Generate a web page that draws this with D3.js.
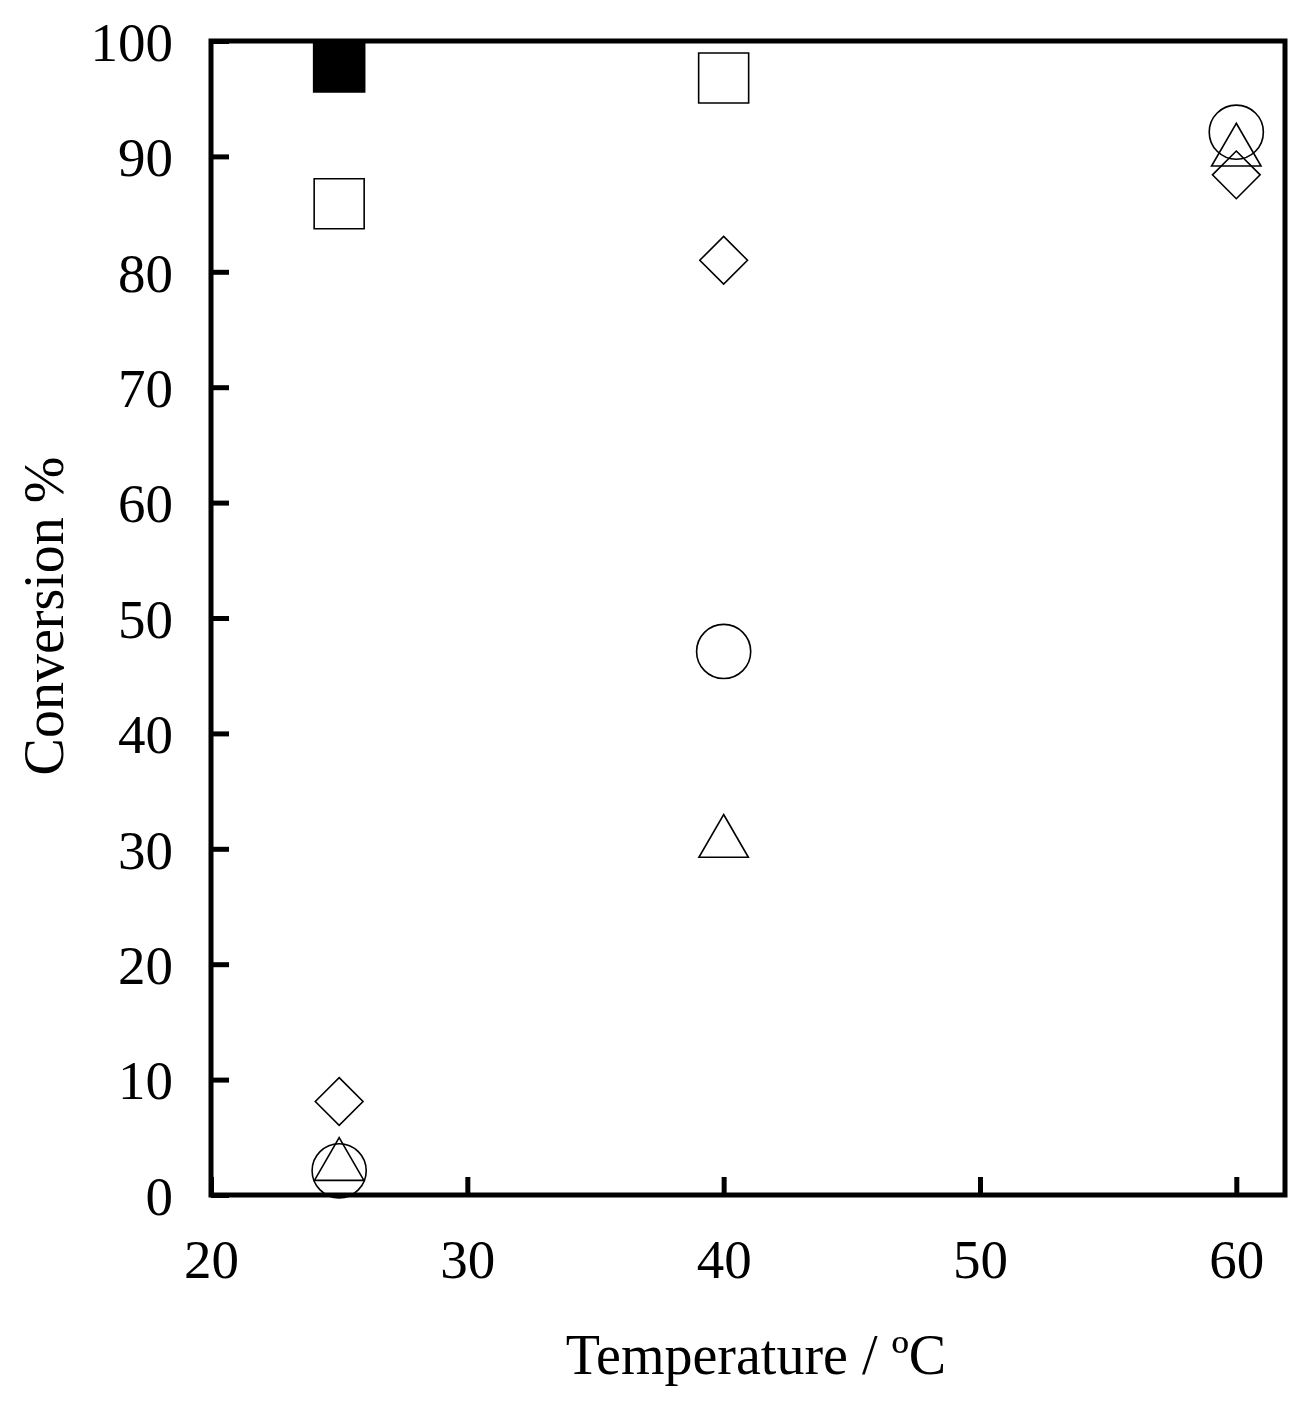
<!DOCTYPE html>
<html><head><meta charset="utf-8">
<script src="https://cdn.jsdelivr.net/npm/d3@7"></script>
<style>body{margin:0;background:#fff}text{font-family:"Liberation Serif","Times New Roman",serif;fill:#000}</style>
</head><body>
<script>
// values: [temperature, conversion]
var filledSquare = [[25, 97.8]];
var openSquare = [[25, 85.9], [40, 96.8]];
var diamond = [[25, 8.1], [40, 81.0], [60, 88.4]];
var circle = [[25, 2.1], [40, 47.1], [60, 92.1]];
var triangle = [[25, 2.5], [40, 30.5], [60, 90.4]];
var xTicks = [20, 30, 40, 50, 60];
var yTicks = [0, 10, 20, 30, 40, 50, 60, 70, 80, 90, 100];

var W = 1315, H = 1402;
var m = {left: 211, right: 30, top: 41, bottom: 207};
var svg = d3.select("body").append("svg").attr("width", W).attr("height", H);

var x = d3.scaleLinear().domain([20, 61.9]).range([m.left, W - m.right]);
var y = d3.scaleLinear().domain([0, 100]).range([H - m.bottom, m.top]);

var g = svg.append("g");

function drawSeries(data, type, size, fill) {
  g.selectAll(null).data(data).enter().append("path")
    .attr("transform", function(d){ return "translate(" + x(d[0]) + "," + y(d[1]) + ")"; })
    .attr("d", d3.symbol().type(type).size(size))
    .attr("fill", fill).attr("stroke", "#000").attr("stroke-width", 1.6);
}
drawSeries(openSquare, d3.symbolSquare, 2500, "none");
drawSeries(diamond, d3.symbolDiamond2, 1450, "none");
drawSeries(circle, d3.symbolCircle, 2300, "none");
drawSeries(triangle, d3.symbolTriangle2, 1750, "none");
drawSeries(filledSquare, d3.symbolSquare, 2600, "#000");

// frame
svg.append("rect").attr("x", m.left).attr("y", m.top)
  .attr("width", W - m.right - m.left).attr("height", H - m.bottom - m.top)
  .attr("fill", "none").attr("stroke", "#000").attr("stroke-width", 5);

var xAxis = svg.append("g").attr("transform", "translate(0," + (H - m.bottom) + ")")
  .call(d3.axisBottom(x).tickValues(xTicks).tickSizeInner(-18).tickSizeOuter(0).tickPadding(44));
var yAxis = svg.append("g").attr("transform", "translate(" + m.left + ",0)")
  .call(d3.axisLeft(y).tickValues(yTicks).tickSizeInner(-18).tickSizeOuter(0).tickPadding(38));
[xAxis, yAxis].forEach(function(a){
  a.select(".domain").remove();
  a.selectAll("line").attr("stroke-width", 5);
  a.selectAll("text").style("font-size", "55px").attr("font-family", null);
});
yAxis.selectAll("text").attr("dy", "0.35em");

svg.append("text").attr("x", (m.left + W - m.right) / 2 + 8).attr("y", 1374)
  .attr("text-anchor", "middle").style("font-size", "56px").text("Temperature / ºC");
svg.append("text").attr("transform", "translate(63," + ((m.top + H - m.bottom) / 2 - 2) + ") rotate(-90)")
  .attr("text-anchor", "middle").style("font-size", "56px").text("Conversion %");
</script>
</body></html>
